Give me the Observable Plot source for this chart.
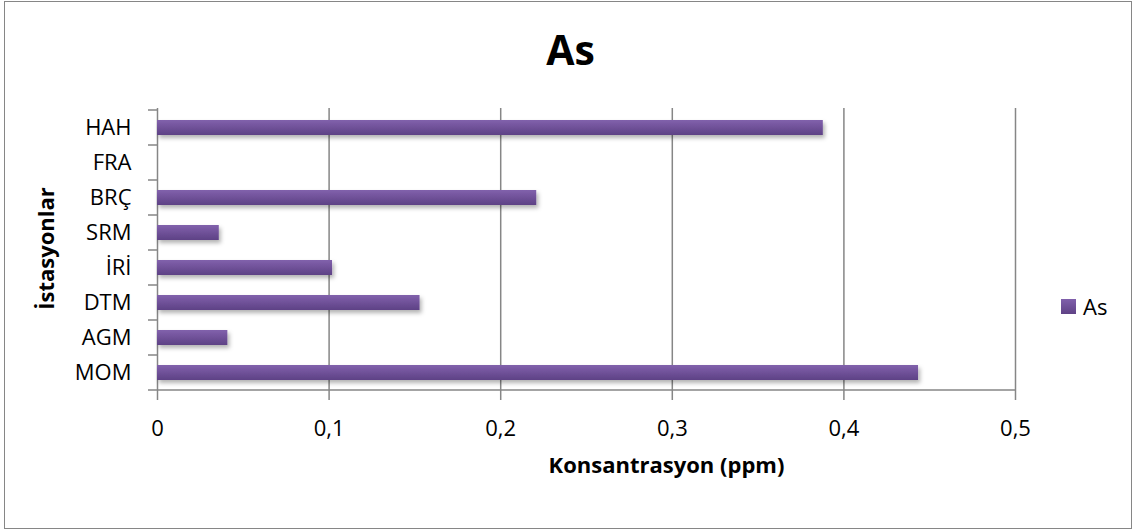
<!DOCTYPE html>
<html>
<head>
<meta charset="utf-8">
<script src="https://cdn.jsdelivr.net/npm/d3@7"></script>
<script src="https://cdn.jsdelivr.net/npm/@observablehq/plot@0.6"></script>
<style>
  html, body { margin: 0; padding: 0; background: #fff; }
  #wrap { position: relative; width: 1136px; height: 531px; overflow: hidden; background: #fff;
          font-family: "Open Sans", "Noto Sans", sans-serif; }
  #border { position: absolute; left: 4px; top: 1px; width: 1126px; height: 526px; border: 1.5px solid #868686; box-sizing: content-box; }
  #chart { position: absolute; left: 0; top: 0; }
  #legend { position: absolute; left: 1061px; top: 291px; display: flex; align-items: center; font-size: 22px; color: #000; }
  #legend .sw { width: 15px; height: 15px; margin-right: 7px; background: linear-gradient(#8060ab, #5f4286); }
</style>
</head>
<body>
<div id="wrap">
  <div id="border"></div>
  <div id="chart"></div>
  <div id="legend"></div>
</div>
<script>
// ---- data ----
const stations = ["HAH", "FRA", "BRÇ", "SRM", "İRİ", "DTM", "AGM", "MOM"];
const asValues = [0.388, 0, 0.221, 0.036, 0.102, 0.153, 0.041, 0.4435];
const xTicks = [0, 0.1, 0.2, 0.3, 0.4, 0.5];
const seriesName = "As";
const titleText = "As";
const xLabel = "Konsantrasyon (ppm)";
const yLabel = "İstasyonlar";

const data = stations.map((s, i) => ({station: s, value: asValues[i]}));
const fontFamily = '"Open Sans", "Noto Sans", sans-serif';
const gridColor = "#868686";

const chart = Plot.plot({
  width: 1136,
  height: 531,
  marginLeft: 157,
  marginRight: 121,
  marginTop: 108,
  marginBottom: 139,
  style: {fontFamily, fontSize: "22px", color: "#000", background: "transparent", overflow: "visible"},
  x: {domain: [0, 0.5]},
  y: {domain: stations, paddingInner: 0.58, paddingOuter: 0.29},
  marks: [
    Plot.ruleX(xTicks, {stroke: gridColor, strokeWidth: 1.5, insetBottom: -8}),
    Plot.barX(data, {x: "value", y: "station", fill: "url(#asGrad)"}),
    Plot.axisX({ticks: xTicks, tickSize: 0, tickPadding: 28, tickFormat: d => String(d).replace(".", ","), label: null, fontSize: 22}),
    Plot.axisY({tickSize: 0, tickPadding: 26, label: null, fontSize: 22}),
    Plot.text([xLabel], {frameAnchor: "bottom", textAnchor: "middle", lineAnchor: "middle", dx: 80, dy: 73, fontWeight: "bold", fontSize: 22}),
    Plot.text([yLabel], {frameAnchor: "left", textAnchor: "middle", lineAnchor: "middle", dx: -111, dy: -2, rotate: -90, fontWeight: "bold", fontSize: 22}),
    Plot.text([titleText], {frameAnchor: "top", textAnchor: "middle", lineAnchor: "middle", dx: -16, dy: -57, fontWeight: "bold", fontSize: 41})
  ]
});

document.getElementById("chart").appendChild(chart);

// gradient + shadow definitions
const svg = d3.select(chart);
const defs = svg.insert("defs", ":first-child");
const grad = defs.append("linearGradient").attr("id", "asGrad").attr("x1", 0).attr("y1", 0).attr("x2", 0).attr("y2", 1);
grad.append("stop").attr("offset", "0%").attr("stop-color", "#8161ac");
grad.append("stop").attr("offset", "100%").attr("stop-color", "#5e4185");
const filt = defs.append("filter").attr("id", "barShadow").attr("x", "-10%").attr("y", "-30%").attr("width", "130%").attr("height", "190%");
filt.append("feDropShadow").attr("dx", 2).attr("dy", 3).attr("stdDeviation", 2).attr("flood-color", "#000").attr("flood-opacity", 0.3);
svg.selectAll("rect").filter(function() { return this.getAttribute("fill") === "url(#asGrad)" || (this.parentNode && this.parentNode.getAttribute("fill") === "url(#asGrad)"); })
  .attr("filter", "url(#barShadow)");

// axis line and category boundary ticks, positioned via Plot's scales
const xs = chart.scale("x");
const ys = chart.scale("y");
const half = (ys.step - ys.bandwidth) / 2;
const bounds = stations.map(s => ys.apply(s) - half);
bounds.push(bounds[bounds.length - 1] + ys.step);
const g = svg.append("g").attr("stroke", gridColor).attr("stroke-width", 1.5);
g.append("line").attr("x1", xs.apply(0)).attr("x2", xs.apply(0.5)).attr("y1", bounds[bounds.length - 1]).attr("y2", bounds[bounds.length - 1]);
g.selectAll("line.tk").data(bounds).join("line").attr("class", "tk")
  .attr("x1", xs.apply(0) - 9).attr("x2", xs.apply(0)).attr("y1", d => d).attr("y2", d => d);

// legend
const lg = document.getElementById("legend");
lg.innerHTML = '<span class="sw"></span><span></span>';
lg.lastChild.textContent = seriesName;
</script>
</body>
</html>
